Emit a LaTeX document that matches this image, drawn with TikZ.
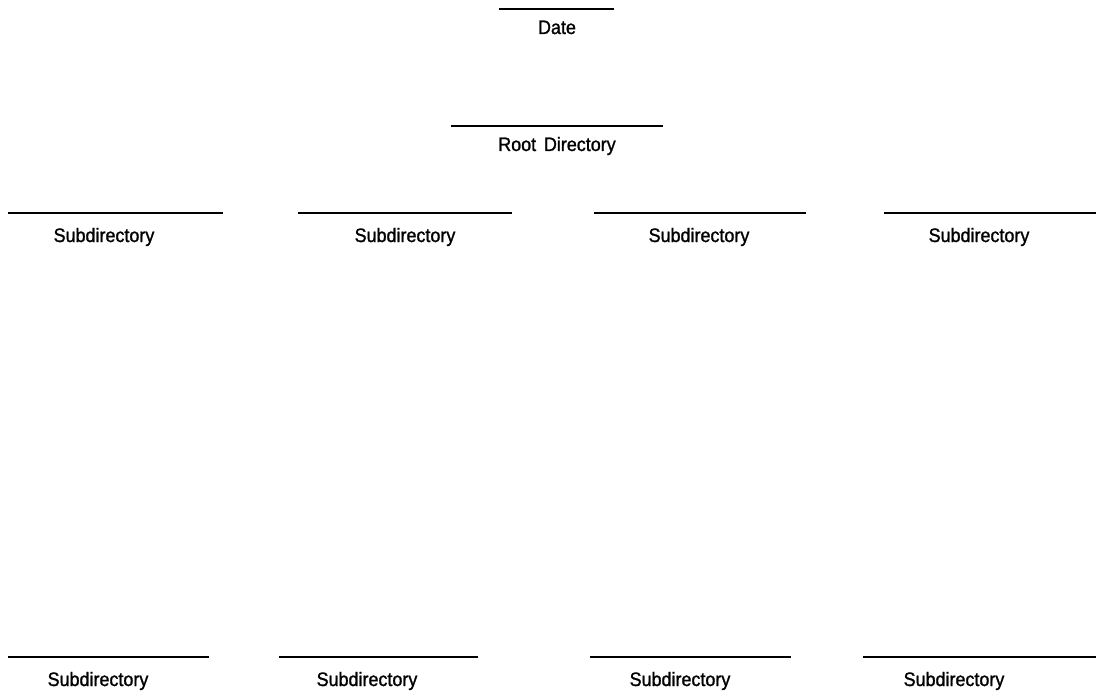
\documentclass[tikz,border=0pt]{standalone}
\usepackage{fontspec}
\setmainfont{Liberation Sans}[FakeStretch=0.92,FakeBold=1.2]
\usetikzlibrary{positioning}

\begin{document}
\begin{tikzpicture}[x=1pt,y=-1pt,font=\fontsize{19.5}{22}\selectfont,
  rule/.style={line width=1.6pt},
  lab/.style={inner sep=0pt,anchor=base}]
  \useasboundingbox (0,0) rectangle (1096,698);
  % heading blanks
  \coordinate (dateL) at (499,9);  \coordinate (dateR) at (614,9);
  \draw[rule] (dateL) -- (dateR);
  \node[lab] (date) at (557,34) {Date};
  \coordinate (rootL) at (451,126); \coordinate (rootR) at (663,126);
  \draw[rule] (rootL) -- (rootR);
  \node[lab] (root) at (557,151) {Root\hspace{0.4em}Directory};
  % subdirectory blanks, top row then bottom row
  \foreach \n/\a/\b/\c/\y/\t in {1/8/223/104/213/242, 2/298/512/405/213/242,
      3/594/806/699/213/242, 4/884/1096/979/213/242,
      5/8/209/98/657/686, 6/279/478/367/657/686,
      7/590/791/680/657/686, 8/863/1096/954/657/686}{
    \coordinate (sub\n L) at (\a,\y);
    \coordinate (sub\n R) at (\b,\y);
    \draw[rule] (sub\n L) -- (sub\n R);
    \node[lab] (sub\n) at (\c,\t) {Subdirectory};}
\end{tikzpicture}
\end{document}
